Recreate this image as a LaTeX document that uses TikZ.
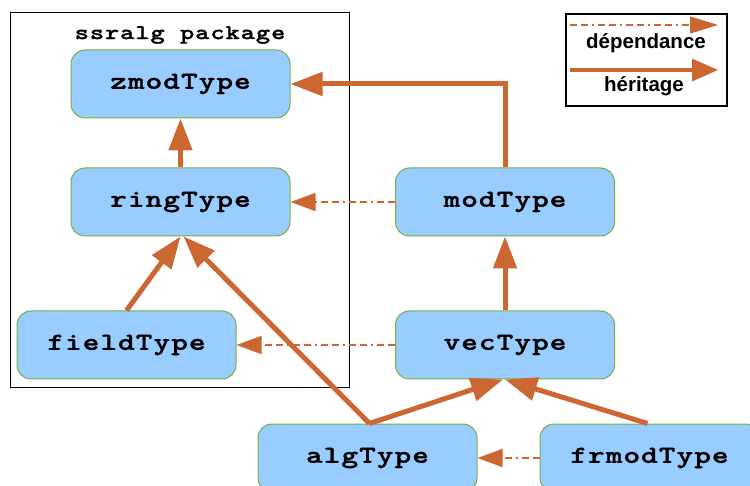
\documentclass[tikz,border=0pt]{standalone}
\usepackage{fontspec}
\newfontfamily\legfont{Liberation Sans}
\newfontfamily\typefont{lmmonolt10-bold.otf}[FakeStretch=1.3, LetterSpace=4, FakeBold=1.2]
\usetikzlibrary{arrows.meta}
\definecolor{arr}{HTML}{CC6633}
\definecolor{nfill}{HTML}{99CCFF}
\definecolor{nborder}{HTML}{77B040}
\tikzset{
  typebox/.style={draw=nborder, line width=1pt, fill=nfill, rounded corners=14pt,
    minimum width=219pt, minimum height=68pt, inner sep=0pt,
    font=\typefont\fontsize{24.5}{30}\selectfont},
  inherit/.style={draw=arr, line width=5pt, -{Triangle[length=32pt,width=23pt]}},
  depend/.style={draw=arr, line width=1.5pt,
    dash pattern=on 7pt off 4pt on 7pt off 4pt on 2pt off 4pt,
    -{Triangle[length=25pt,width=18pt]}},
  legtext/.style={font=\legfont\bfseries\fontsize{20.5}{24}\selectfont, inner sep=0pt},
  frame/.style={draw=black, line width=1pt}
}
\begin{document}
\begin{tikzpicture}[x=1pt,y=-1pt]
\useasboundingbox (0,0) rectangle (750,486);
% package frame
\draw[frame] (10,13) rectangle (349,388);
\node (pkgtitle) [inner sep=0pt, font=\typefont\fontsize{21}{25}\selectfont] at (180,35) {ssralg package};
% legend
\draw[frame, line width=1.3pt] (566,14) rectangle (727,106);
\coordinate (ldA) at (570,25);
\coordinate (ldB) at (718,25);
\coordinate (lhA) at (570,70);
\coordinate (lhB) at (718,70);
\draw[depend, -{Triangle[length=28pt,width=17pt]}] (ldA) -- (ldB);
\draw[inherit, line width=3.5pt, -{Triangle[length=26pt,width=22pt]}] (lhA) -- (lhB);
\node (ldep) [legtext] at (646,43) {dépendance};
\node (lher) [legtext] at (644,86) {héritage};
% nodes
\node (zmod)  [typebox] at (180.5,84)  {zmodType};
\node (ring)  [typebox] at (180.5,202) {ringType};
\node (field) [typebox] at (126.5,345) {fieldType};
\node (mod)   [typebox] at (505,202)   {modType};
\node (vec)   [typebox] at (505,345)   {vecType};
\node (alg)   [typebox] at (367.5,458) {algType};
\node (frmod) [typebox] at (649.5,458) {frmodType};
% inheritance
\draw[inherit] (mod.north) |- (zmod.east);
\draw[inherit] (ring.north) -- (zmod.south);
\draw[inherit] (field.north) -- (ring.south);
\draw[inherit] ([xshift=2pt]alg.north) -- ([xshift=3pt]ring.south);
\draw[inherit] (vec.north) -- (mod.south);
\draw[inherit] ([xshift=2pt]alg.north) -- ([xshift=-2pt]vec.south);
\draw[inherit] ([xshift=-2pt]frmod.north) -- (vec.south);
% dependence
\draw[depend] (mod.west) -- (ring.east);
\draw[depend] (vec.west) -- (field.east);
\draw[depend] (frmod.west) -- (alg.east);
\end{tikzpicture}
\end{document}
